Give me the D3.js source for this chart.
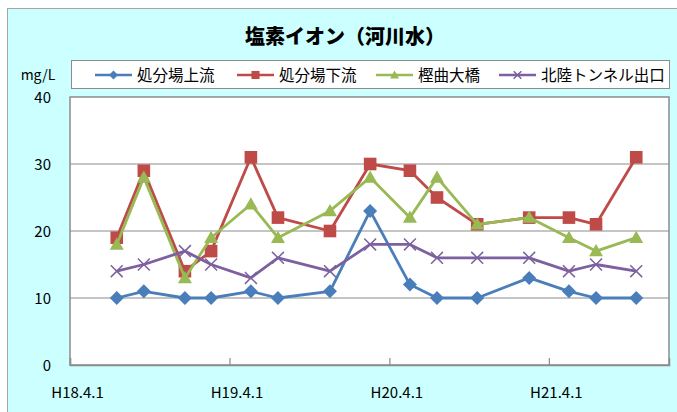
<!DOCTYPE html>
<html><head><meta charset="utf-8">
<script src="https://cdn.jsdelivr.net/npm/d3@7"></script>
<style>
html,body{margin:0;padding:0;background:#fff;}
svg{display:block;}
text{font-family:"Noto Sans CJK JP","Noto Sans",sans-serif;fill:#000;}
</style></head>
<body><svg id="c" width="677" height="412"></svg>
<script>
const title = "塩素イオン（河川水）";
const unitLabel = "mg/L";
const seriesNames = ["処分場上流", "処分場下流", "樫曲大橋", "北陸トンネル出口"];
const dates = ["2006-07-17","2006-09-17","2006-12-20","2007-02-18","2007-05-20","2007-07-21",
  "2007-11-17","2008-02-17","2008-05-18","2008-07-19","2008-10-19","2009-02-15",
  "2009-05-17","2009-07-18","2009-10-18"];
const upstream   = [10, 11, 10, 10, 11, 10, 11, 23, 12, 10, 10, 13, 11, 10, 10];
const downstream = [19, 29, 14, 17, 31, 22, 20, 30, 29, 25, 21, 22, 22, 21, 31];
const kashimagari= [18, 28, 13, 19, 24, 19, 23, 28, 22, 28, 21, 22, 19, 17, 19];
const tunnel     = [14, 15, 17, 15, 13, 16, 14, 18, 18, 16, 16, 16, 14, 15, 14];
const xTickDates = ["2006-04-01","2007-04-01","2008-04-01","2009-04-01"];
const xTickLabels = ["H18.4.1","H19.4.1","H20.4.1","H21.4.1"];
const yTicks = [0, 10, 20, 30, 40];
const xDomain = ["2006-04-01","2010-01-01"];

const colors = ["#4A7EBB","#BE4B48","#98B954","#7D60A0"];
const markers = ["diamond","square","triangle","x"];
const values = [upstream, downstream, kashimagari, tunnel];

const parse = d3.timeParse("%Y-%m-%d");
const svg = d3.select("#c");

// background & outer frame
svg.append("rect").attr("x",7.5).attr("y",8.5).attr("width",700).attr("height",420)
  .attr("fill","#CCFFFF").attr("stroke","#A6A6A6").attr("stroke-width",1);

const L = 70, R = 669, T = 97, B = 365;
const x = d3.scaleTime().domain(xDomain.map(parse)).range([L, R]);
const y = d3.scaleLinear().domain([0, 40]).range([B, T]);

svg.append("rect").attr("x",L).attr("y",T).attr("width",R-L).attr("height",B-T).attr("fill","#fff");

// gridlines
svg.append("g").selectAll("line").data(yTicks.filter(d=>d>0 && d<40)).join("line")
  .attr("x1",L).attr("x2",R).attr("y1",d=>y(d)).attr("y2",d=>y(d))
  .attr("stroke","#8C8C8C").attr("stroke-width",1.2);
svg.append("rect").attr("x",L).attr("y",T).attr("width",R-L).attr("height",B-T)
  .attr("fill","none").attr("stroke","#8C8C8C").attr("stroke-width",1.5);

// y axis
const yAxis = d3.axisLeft(y).tickValues(yTicks).tickSize(0).tickPadding(19);
const gy = svg.append("g").attr("transform",`translate(${L},0)`).call(yAxis);
gy.select(".domain").remove();
gy.selectAll("text").style("font-size","15px").attr("font-family",null).attr("dy","0.36em");

// x axis
const xAxis = d3.axisBottom(x).tickValues(xTickDates.map(parse)).tickSize(-7)
  .tickFormat((d,i)=>xTickLabels[i]);
const gx = svg.append("g").attr("transform",`translate(0,${B})`).call(xAxis);
gx.select(".domain").attr("stroke","#8C8C8C").attr("stroke-width",1.5);
gx.selectAll(".tick line").attr("stroke","#8C8C8C").attr("stroke-width",1.2);
gx.selectAll("text").style("font-size","15px").attr("font-family",null)
  .attr("y",28).attr("dx",7).attr("dy","0.36em");

// markers
function drawMarker(g, type, color, s) {
  if (type === "diamond") {
    g.append("path").attr("d",`M0,${-s}L${s},0L0,${s}L${-s},0Z`).attr("fill",color);
  } else if (type === "square") {
    const h = s*0.9;
    g.append("rect").attr("x",-h).attr("y",-h).attr("width",2*h).attr("height",2*h).attr("fill",color);
  } else if (type === "triangle") {
    g.append("path").attr("d",`M0,${-s}L${s},${s*0.75}L${-s},${s*0.75}Z`).attr("fill",color);
  } else {
    const h = s*0.85;
    g.append("path").attr("d",`M${-h},${-h}L${h},${h}M${-h},${h}L${h},${-h}`)
      .attr("stroke",color).attr("stroke-width",1.5).attr("fill","none");
  }
}

const line = d3.line().x(d=>x(d[0])).y(d=>y(d[1]));
values.forEach((vals, si) => {
  const pts = dates.map((d,i)=>[parse(d), vals[i]]);
  svg.append("path").datum(pts).attr("d",line).attr("fill","none")
    .attr("stroke",colors[si]).attr("stroke-width",2.8).attr("stroke-linejoin","round");
  pts.forEach(p => {
    const g = svg.append("g").attr("transform",`translate(${x(p[0])},${y(p[1])})`);
    drawMarker(g, markers[si], colors[si], 7);
  });
});

// title
svg.append("text").attr("x",345).attr("y",44).attr("text-anchor","middle")
  .style("font-size","20px").style("font-weight","900").text(title);

// unit label
svg.append("text").attr("x",38).attr("y",80).attr("text-anchor","middle")
  .style("font-size","14px").text(unitLabel);

// legend
svg.append("rect").attr("x",71.5).attr("y",60.5).attr("width",598).attr("height",28)
  .attr("fill","#fff").attr("stroke","#8C8C8C").attr("stroke-width",1);
const legX = [95, 237, 376, 499];
seriesNames.forEach((n, i) => {
  const g = svg.append("g").attr("transform",`translate(${legX[i]},75)`);
  g.append("line").attr("x1",0).attr("x2",37).attr("stroke",colors[i]).attr("stroke-width",2.5);
  const m = g.append("g").attr("transform","translate(18.5,0)");
  drawMarker(m, markers[i], colors[i], 4.5);
  g.append("text").attr("x",42).attr("y",0).attr("dy","0.36em").style("font-size","15.5px").text(n);
});
</script></body></html>
